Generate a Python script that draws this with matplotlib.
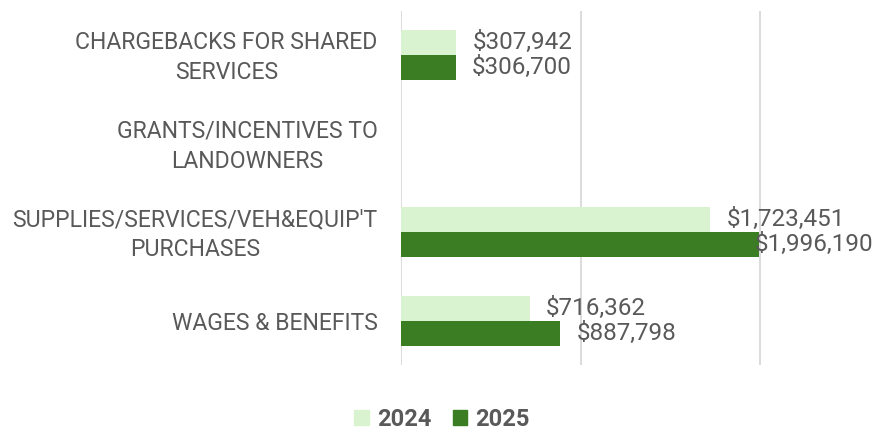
import numpy as np
import matplotlib
matplotlib.use("Agg")
import matplotlib.pyplot as plt
import matplotlib.transforms as mtransforms
from matplotlib.patches import Patch

categories = ["CHARGEBACKS FOR SHARED\nSERVICES",
              "GRANTS/INCENTIVES TO\nLANDOWNERS",
              "SUPPLIES/SERVICES/VEH&EQUIP'T\nPURCHASES",
              "WAGES & BENEFITS"]
series_names = ["2024", "2025"]
values_2024 = [307942, np.nan, 1723451, 716362]
values_2025 = [306700, np.nan, 1996190, 887798]

colors = ["#D9F2D0", "#3B7D23"]
text_color = "#595959"
plt.rcParams["font.family"] = ["Roboto", "DejaVu Sans"]

fig = plt.figure(figsize=(8.75, 4.32), dpi=100)
ax = fig.add_axes([401 / 875, 1 - 365 / 432, 1 - 401 / 875, 354 / 432])

y = np.arange(len(categories))
h = 0.285
bars = []
for i, (vals, c) in enumerate(zip([values_2024, values_2025], colors)):
    off = -h / 2 if i == 0 else h / 2
    b = ax.barh(y + off, vals, height=h, color=c, label=series_names[i], zorder=2)
    bars.append((b, vals, y + off))

ax.set_xlim(0, 2.64e6)
ax.set_ylim(len(categories) - 0.5, -0.5)
ax.set_xticks([0, 1e6, 2e6])
ax.xaxis.grid(True, color="#d9d9d9", lw=1.3, zorder=0)
ax.tick_params(axis="x", length=0, labelbottom=False)
ax.tick_params(axis="y", length=0, pad=17)
ax.set_yticks(y)
ax.set_yticklabels(categories, fontsize=16.6, color=text_color, ha="right",
                   multialignment="center", linespacing=1.4)
# nudge two-line labels up a little
shift = mtransforms.ScaledTranslation(0, 3.5 / 100, fig.dpi_scale_trans)
for lab in ax.get_yticklabels():
    if "\n" in lab.get_text():
        lab.set_transform(lab.get_transform() + shift)
for s in ax.spines.values():
    s.set_visible(False)

fig.canvas.draw()
renderer = fig.canvas.get_renderer()
for b, vals, ys in bars:
    for v, yy in zip(vals, ys):
        if np.isnan(v):
            continue
        t = ax.annotate(f"${v:,.0f}", xy=(v, yy), xytext=(11.5, 0),
                        textcoords="offset points", va="center", ha="left",
                        fontsize=17.5, color=text_color, annotation_clip=False)
        bb = t.get_window_extent(renderer)
        if bb.x1 > fig.bbox.width - 2:
            t.xyann = (t.xyann[0] - (bb.x1 - fig.bbox.width + 2) * 72 / fig.dpi, 0)

handles = [Patch(color=c, label=n) for c, n in zip(colors, series_names)]
leg = fig.legend(handles=handles, loc="center", bbox_to_anchor=(0.505, 1 - 419 / 432),
                 ncol=2, frameon=False, handlelength=0.6, handleheight=0.6,
                 handletextpad=0.35, columnspacing=0.9,
                 prop={"size": 17, "weight": "bold"})
for t in leg.get_texts():
    t.set_color(text_color)

fig.savefig("out.png", dpi=100)
